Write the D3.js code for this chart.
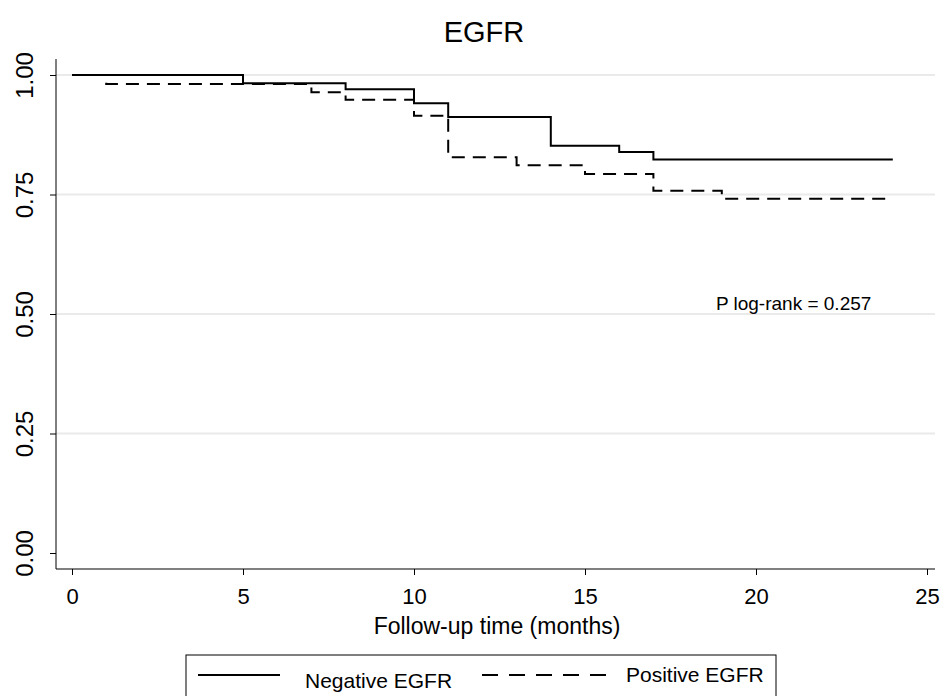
<!DOCTYPE html>
<html>
<head>
<meta charset="utf-8">
<script src="https://cdn.jsdelivr.net/npm/d3@7"></script>
<style>
  body { margin: 0; background: #fff; }
  text { font-family: "Liberation Sans", Arial, sans-serif; fill: #000; }
</style>
</head>
<body>
<div class="canvas"></div>
<script>
// Kaplan-Meier steps
const negTime = [0, 5, 8, 10, 11, 14, 16, 17, 24];
const negSurv = [1, 0.983, 0.970, 0.941, 0.912, 0.852, 0.839, 0.823, 0.823];
const posTime = [0, 1, 7, 8, 10, 11, 13, 15, 17, 19, 24];
const posSurv = [1, 0.981, 0.964, 0.948, 0.915, 0.828, 0.811, 0.793, 0.758, 0.741, 0.741];

const xTicks = [0, 5, 10, 15, 20, 25];
const yTicks = [0, 0.25, 0.5, 0.75, 1];
const seriesNames = ["Negative EGFR", "Positive EGFR"];
const pLabel = "P log-rank = 0.257";

const svgWidth = 942, svgHeight = 696;

const svg = d3.select(".canvas").append("svg")
  .attr("width", svgWidth)
  .attr("height", svgHeight);

const x = d3.scaleLinear().domain([0, 25]).range([72, 927]);
const y = d3.scaleLinear().domain([0, 1]).range([553, 75]);

const axisX0 = 56, axisX1 = 935, axisY = 569, axisTop = 59;

// gridlines
svg.append("g")
  .selectAll("line")
  .data(yTicks.filter(d => d > 0))
  .join("line")
  .attr("x1", axisX0).attr("x2", axisX1)
  .attr("y1", d => y(d)).attr("y2", d => y(d))
  .attr("stroke", "#eaeaea")
  .attr("stroke-width", 2);

// y axis
const gy = svg.append("g")
  .attr("transform", `translate(${axisX0},0)`)
  .call(d3.axisLeft(y).tickValues(yTicks).tickFormat(d3.format(".2f")).tickSize(6));
gy.select(".domain").remove();
gy.selectAll(".tick line").attr("stroke", "#000");
gy.selectAll(".tick text")
  .attr("transform", "rotate(-90)")
  .attr("x", 0)
  .attr("y", -23)
  .attr("dy", 0)
  .attr("text-anchor", "middle")
  .style("font-size", "24px")
  .style("font-family", "Liberation Sans, Arial, sans-serif");
svg.append("line")
  .attr("x1", axisX0).attr("x2", axisX0)
  .attr("y1", axisTop).attr("y2", axisY)
  .attr("stroke", "#000");

// x axis
const gx = svg.append("g")
  .attr("transform", `translate(0,${axisY})`)
  .call(d3.axisBottom(x).tickValues(xTicks).tickSize(6).tickPadding(4));
gx.select(".domain").remove();
gx.selectAll(".tick line").attr("stroke", "#000");
gx.selectAll(".tick text")
  .attr("y", 35)
  .attr("dy", 0)
  .style("font-size", "22px")
  .style("font-family", "Liberation Sans, Arial, sans-serif");
svg.append("line")
  .attr("x1", axisX0).attr("x2", axisX1)
  .attr("y1", axisY).attr("y2", axisY)
  .attr("stroke", "#000");

// survival curves
const line = d3.line()
  .x(d => x(d[0]))
  .y(d => y(d[1]))
  .curve(d3.curveStepAfter);

svg.append("path")
  .datum(negTime.map((t, i) => [t, negSurv[i]]))
  .attr("d", line)
  .attr("fill", "none")
  .attr("stroke", "#000")
  .attr("stroke-width", 2);

svg.append("path")
  .datum(posTime.map((t, i) => [t, posSurv[i]]))
  .attr("d", line)
  .attr("fill", "none")
  .attr("stroke", "#000")
  .attr("stroke-width", 2)
  .attr("stroke-dasharray", "13,8");

// annotation
svg.append("text")
  .attr("x", x(21.1))
  .attr("y", y(0.5) - 4)
  .attr("text-anchor", "middle")
  .style("font-size", "19px")
  .text(pLabel);

// title
svg.append("text")
  .attr("x", 484)
  .attr("y", 42)
  .attr("text-anchor", "middle")
  .style("font-size", "29px")
  .text("EGFR");

// x axis title
svg.append("text")
  .attr("x", 497)
  .attr("y", 634)
  .attr("text-anchor", "middle")
  .style("font-size", "23px")
  .text("Follow-up time (months)");

// legend
svg.append("rect")
  .attr("x", 186).attr("y", 655)
  .attr("width", 590).attr("height", 60)
  .attr("fill", "none")
  .attr("stroke", "#000");

const legendItems = [
  { name: seriesNames[0], x1: 198, x2: 280, tx: 305, ty: 688, dash: null },
  { name: seriesNames[1], x1: 482, x2: 608, tx: 626, ty: 682, dash: "16,11" }
];

const legend = svg.selectAll(".legend")
  .data(legendItems)
  .join("g")
  .attr("class", "legend");

legend.append("line")
  .attr("x1", d => d.x1).attr("x2", d => d.x2)
  .attr("y1", 675).attr("y2", 675)
  .attr("stroke", "#000")
  .attr("stroke-width", 2)
  .attr("stroke-dasharray", d => d.dash);

legend.append("text")
  .attr("x", d => d.tx)
  .attr("y", d => d.ty)
  .style("font-size", "21px")
  .text(d => d.name);
</script>
</body>
</html>
